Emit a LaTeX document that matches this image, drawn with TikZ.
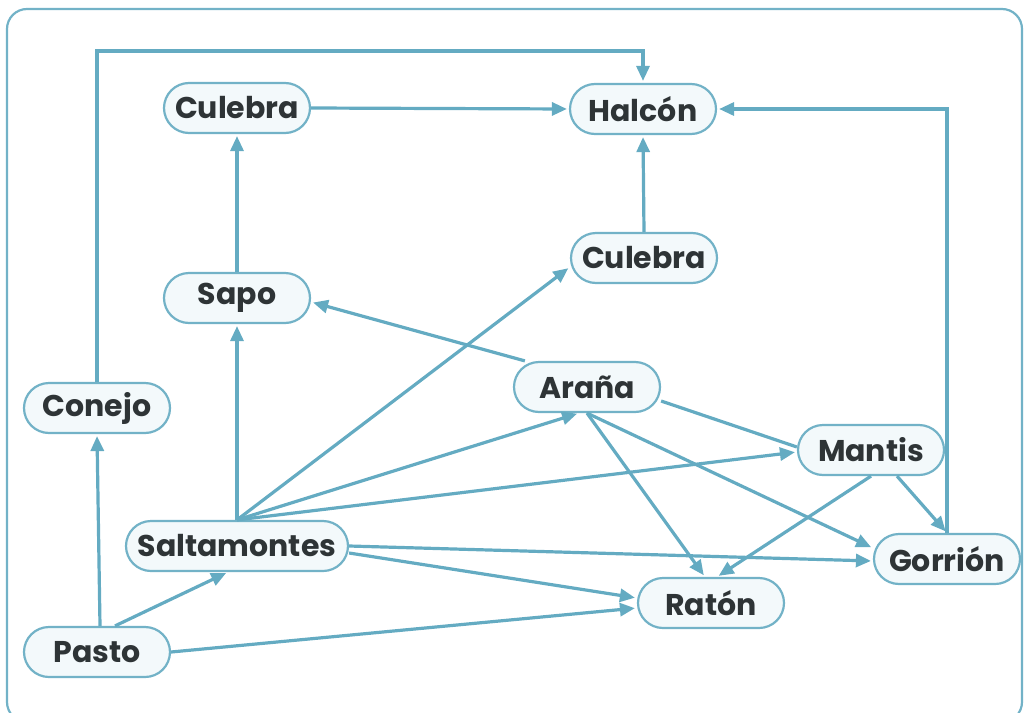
\documentclass[tikz,border=0pt]{standalone}
\usepackage{fontspec}
\setmainfont{Poppins}
\usetikzlibrary{arrows.meta}
\definecolor{ln}{HTML}{64ABC2}
\definecolor{bd}{HTML}{72B2C7}
\definecolor{fl}{HTML}{F3F9FB}
\definecolor{tx}{HTML}{2E3436}
\begin{document}
\begin{tikzpicture}[x=1pt,y=-1pt,
  box/.style={draw=bd, line width=2.2pt, fill=fl, rounded corners=25pt, minimum width=146pt, minimum height=50pt, inner sep=0pt, font=\fontsize{30}{34}\selectfont\bfseries, text=tx},
  arr/.style={draw=ln, line width=3.2pt, shorten >=2pt, -{Triangle[length=15pt,width=13pt]}},
  plain/.style={draw=ln, line width=3.2pt}]
\useasboundingbox (0,0) rectangle (1025,712);
\draw[bd, line width=2.2pt, rounded corners=20pt] (7,9) rectangle (1022,722);

\node[box] (cul1) at (237,108) {Culebra};
\node[box] (halcon) at (643,109) {Halcón};
\node[box] (cul2) at (644,258) {Culebra};
\node[box] (sapo) at (237,298) {Sapo};
\node[box] (conejo) at (97,408) {Conejo};
\node[box] (arana) at (587,387) {Araña};
\node[box] (mantis) at (871,450) {Mantis};
\node[box, minimum width=222pt] (salt) at (237,546) {Saltamontes};
\node[box] (gorrion) at (947,559) {Gorrión};
\node[box] (raton) at (711,603) {Ratón};
\node[box] (pasto) at (97,652) {Pasto};

\draw[arr] (conejo.north) -- ++(0,-331) -| (halcon.north);
\draw[arr] (cul1.east) -- (halcon.west);
\draw[arr] (gorrion.north) |- (halcon.east);
\draw[arr] (cul2.north) -- (halcon.south);
\draw[arr] (sapo.north) -- (cul1.south);
\draw[arr] (salt.north) -- (sapo.south);
\draw[arr] (salt.north) -- ([yshift=-9pt]cul2.west);
\draw[arr] (salt.north) -- ([xshift=-8pt]arana.south);
\draw[arr] (salt.north) -- ([yshift=-2pt]mantis.west);
\draw[arr] ([xshift=12pt]arana.north west) -- ([yshift=-4pt]sapo.east);
\draw[plain] ([yshift=-14pt]arana.east) -- ([yshift=3pt]mantis.west);
\draw[arr] (arana.south) -- ([yshift=11pt]gorrion.west);
\draw[arr] (arana.south) -- ([xshift=-6pt]raton.north);
\draw[arr] (mantis.south) -- ([xshift=6pt]raton.north);
\draw[arr] ([xshift=26pt]mantis.south) -- (gorrion.north);
\draw[arr] (salt.east) -- ([yshift=-2pt]gorrion.west);
\draw[arr] ([yshift=-7pt]salt.east) -- ([yshift=5pt]raton.west);
\draw[arr] (pasto.east) -- ([yshift=-5pt]raton.west);
\draw[arr] ([xshift=3pt]pasto.north) -- (conejo.south);
\draw[arr] ([xshift=18pt]pasto.north) -- ([xshift=-9pt]salt.south);
\end{tikzpicture}
\end{document}
